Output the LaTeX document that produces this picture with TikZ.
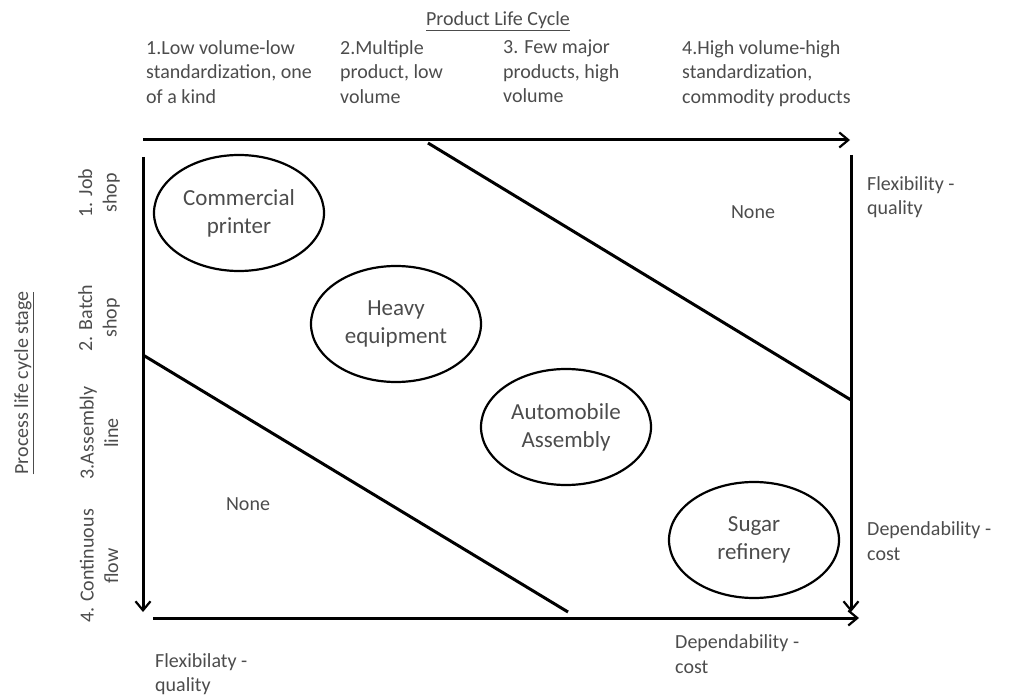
\documentclass[tikz,border=0pt]{standalone}
\usepackage{fontspec}
\setmainfont{Carlito}
\usetikzlibrary{arrows.meta, shapes.geometric}

\tikzset{
	txt/.style={inner sep=0pt, align=left, text=black!70},
	stage/.style={inner sep=0pt, align=center, rotate=90, text=black!70},
	kind/.style={ellipse, draw=black, line width=2.2pt, minimum width=170pt, minimum height=116pt, inner sep=0pt, align=center, text=black!70, font=\fontsize{23}{28}\selectfont},
	axis/.style={line width=3pt, -{Straight Barb[length=9pt, width=15pt, line width=2.2pt]}},
	border/.style={line width=3pt}
}

\begin{document}
\begin{tikzpicture}[x=1pt, y={(0pt,-1pt)}, font=\fontsize{20}{24.5}\selectfont]
	\useasboundingbox (0,0) rectangle (1013,695);
	\coordinate (P1) at (143,140); \coordinate (P2) at (850,140);
	\coordinate (S1) at (143,157); \coordinate (S2) at (143,612);
	\coordinate (R1) at (851,155); \coordinate (R2) at (851,612);
	\coordinate (Q1) at (153,618); \coordinate (Q2) at (859,618);
	\coordinate (U1) at (428,143); \coordinate (U2) at (851,400);
	\coordinate (D1) at (143,355); \coordinate (D2) at (568,612);

	\draw[axis] (P1) -- (P2); \draw[axis] (S1) -- (S2);
	\draw[axis] (R1) -- (R2); \draw[axis] (Q1) -- (Q2);
	\draw[border] (U1) -- (U2); \draw[border] (D1) -- (D2);

	\node[txt] (plc) at (498,21) {\underline{Product Life Cycle}};
	\node[txt, anchor=north west] (c1) at (146,40) {1.Low volume-low\\standardization, one\\of a kind};
	\node[txt, anchor=north west] (c2) at (340,40) {2.Multiple\\product, low\\volume};
	\node[txt, anchor=north west] (c3) at (503,40) {3. Few major\\products, high\\volume};
	\node[txt, anchor=north west] (c4) at (682,40) {4.High volume-high\\standardization,\\commodity products};

	\node[txt, rotate=90] (pls) at (24,383) {\underline{Process life cycle stage}};
	\node[stage] (s1) at (99,193) {1. Job\\shop};
	\node[stage] (s2) at (99,318) {2. Batch\\shop};
	\node[stage] (s3) at (99,433) {3.Assembly\\line};
	\node[stage] (s4) at (99,566) {4. Continuous\\flow};

	\node[kind] (printer) at (239,213) {Commercial\\printer};
	\node[kind] (heavy) at (396,324) {Heavy\\equipment};
	\node[kind] (auto) at (566,427) {Automobile\\Assembly};
	\node[kind] (sugar) at (754,540) {Sugar\\refinery};

	\node[txt] (none1) at (753,212) {None};
	\node[txt] (none2) at (248,504) {None};

	\node[txt, anchor=west] (fq) at (867,197) {Flexibility -\\quality};
	\node[txt, anchor=west] (dc) at (867,541) {Dependability -\\cost};
	\node[txt, anchor=west] (fq2) at (155,674) {Flexibilaty -\\quality};
	\node[txt, anchor=west] (dc2) at (675,654) {Dependability -\\cost};
\end{tikzpicture}
\end{document}
